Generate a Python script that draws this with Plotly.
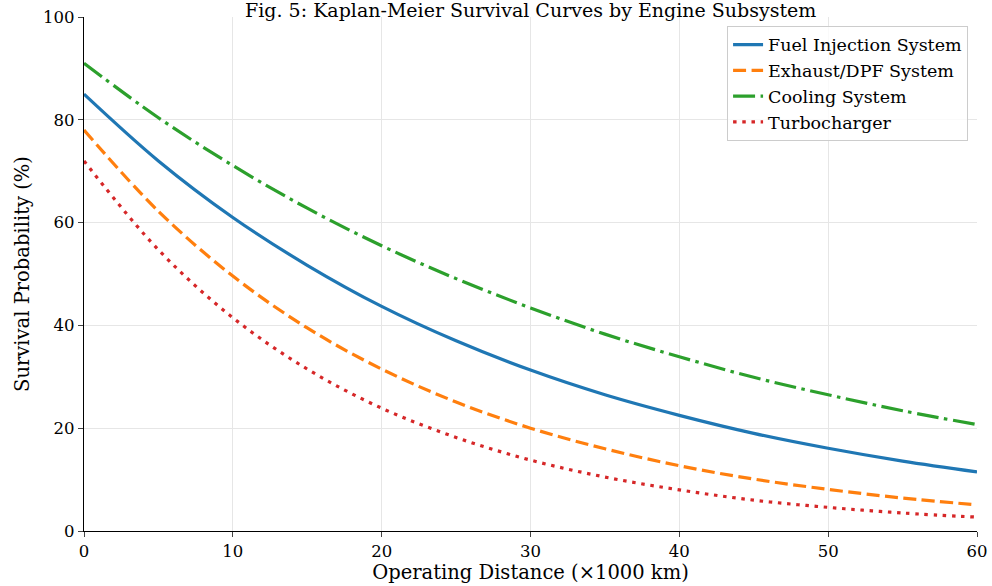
import plotly.graph_objects as go

# operating distance (x1000 km) and survival probability (%)
distance = [0, 5, 10, 15, 20, 25, 30, 35, 40, 45, 50, 55, 60]
fuel_injection = [85, 72, 61, 51.7, 43.7, 37, 31.3, 26.5, 22.5, 19, 16.1, 13.6, 11.5]
exhaust_dpf = [78, 62.2, 49.6, 39.5, 31.5, 25.1, 20, 16, 12.7, 10.1, 8.1, 6.4, 5.1]
cooling = [91, 80.4, 71.1, 62.8, 55.5, 49.1, 43.4, 38.3, 33.9, 29.9, 26.5, 23.4, 20.7]
turbocharger = [72, 54.7, 41.5, 31.5, 23.9, 18.2, 13.8, 10.5, 8.0, 6.0, 4.6, 3.5, 2.7]

series = [
    ("Fuel Injection System", fuel_injection, "#1f77b4", "solid"),
    ("Exhaust/DPF System", exhaust_dpf, "#ff7f0e", "13px,5.5px"),
    ("Cooling System", cooling, "#2ca02c", "22px,5.5px,3.5px,5.5px"),
    ("Turbocharger", turbocharger, "#d62728", "3.5px,5.7px"),
]

fig = go.Figure()
for name, vals, color, dash in series:
    fig.add_trace(go.Scatter(
        x=distance, y=vals, name=name, mode="lines",
        line=dict(color=color, width=3.2, dash=dash, shape="spline"),
    ))

font = "DejaVu Serif, serif"
fig.update_layout(
    width=992, height=586,
    margin=dict(l=84, r=15, t=17, b=55, autoexpand=False),
    paper_bgcolor="white", plot_bgcolor="white",
    font=dict(family=font, size=16.5, color="black"),
    title=dict(text="Fig. 5: Kaplan-Meier Survival Curves by Engine Subsystem",
               x=0.535, xanchor="center", y=0.993, yanchor="top",
               pad=dict(t=0, b=0), font=dict(size=19), automargin=False),
    legend=dict(x=0.99, y=0.983, xanchor="right", yanchor="top",
                bgcolor="rgba(255,255,255,0.8)", bordercolor="#cccccc",
                borderwidth=1, font=dict(size=17.5), tracegroupgap=0),
)
fig.update_xaxes(
    range=[0, 60], dtick=10, showgrid=True, gridcolor="#e6e6e6",
    showline=True, linecolor="black", linewidth=1.2, automargin=False,
    ticks="outside", ticklen=5, zeroline=False,
    title=dict(text="Operating Distance (×1000 km)", font=dict(size=19.5), standoff=3),
)
fig.update_yaxes(
    range=[0, 100], dtick=20, showgrid=True, gridcolor="#e6e6e6",
    showline=True, linecolor="black", linewidth=1.2, automargin=False,
    ticks="outside", ticklen=5, zeroline=False,
    title=dict(text="Survival Probability (%)", font=dict(size=19.5), standoff=8),
)

# the page body has a default 8px margin; drop it so the figure sits at the corner
fig.write_html("out.html", config={"displayModeBar": False},
               post_script="document.body.style.margin='0px';")
